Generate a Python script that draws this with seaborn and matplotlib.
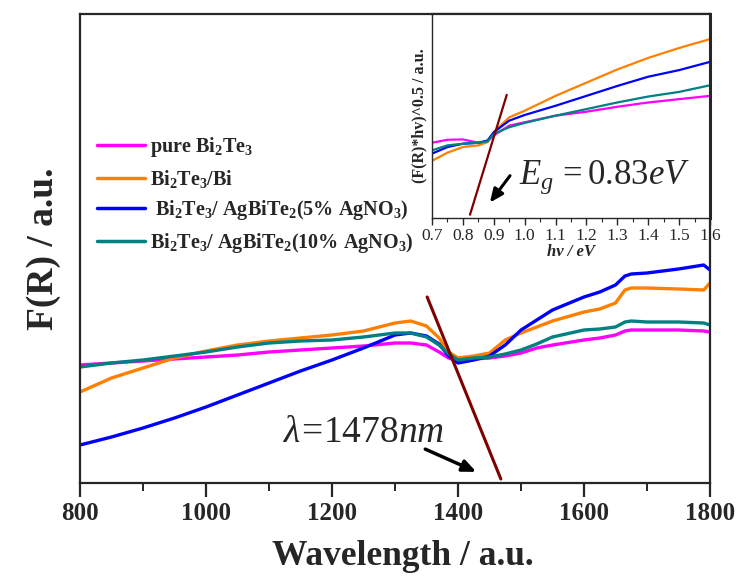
import numpy as np
import pandas as pd
import matplotlib
matplotlib.use("Agg")
import matplotlib.pyplot as plt
import seaborn as sns
from matplotlib.ticker import MultipleLocator

# ---------------- main spectra ----------------
wavelength = [800, 850, 900, 950, 1000, 1050, 1100, 1150, 1200, 1250, 1300, 1325,
              1350, 1370, 1385, 1400, 1425, 1450, 1475, 1500, 1525, 1550, 1600,
              1625, 1650, 1665, 1675, 1700, 1750, 1790, 1800]
pure_bi2te3 = [1.35, 1.37, 1.39, 1.41, 1.43, 1.45, 1.48, 1.50, 1.52, 1.54, 1.57, 1.57,
               1.55, 1.48, 1.42, 1.39, 1.41, 1.42, 1.44, 1.47, 1.52, 1.55, 1.60,
               1.62, 1.65, 1.69, 1.70, 1.70, 1.70, 1.69, 1.68]
bi2te3_bi = [1.08, 1.22, 1.32, 1.42, 1.49, 1.55, 1.59, 1.62, 1.65, 1.69, 1.77, 1.79,
             1.74, 1.62, 1.48, 1.42, 1.44, 1.47, 1.60, 1.67, 1.73, 1.79, 1.88,
             1.91, 1.97, 2.10, 2.12, 2.12, 2.11, 2.10, 2.17]
ag_5 = [0.55, 0.63, 0.72, 0.82, 0.93, 1.05, 1.17, 1.29, 1.40, 1.52, 1.65, 1.67,
        1.64, 1.56, 1.44, 1.37, 1.40, 1.44, 1.55, 1.70, 1.80, 1.90, 2.03,
        2.08, 2.15, 2.24, 2.26, 2.27, 2.31, 2.35, 2.30]
ag_10 = [1.33, 1.37, 1.40, 1.44, 1.48, 1.53, 1.57, 1.59, 1.60, 1.63, 1.67, 1.67,
         1.63, 1.55, 1.46, 1.40, 1.42, 1.43, 1.46, 1.50, 1.56, 1.63, 1.70,
         1.71, 1.73, 1.78, 1.79, 1.78, 1.78, 1.77, 1.75]

labels = [
    r"pure Bi$_\mathbf{2}$Te$_\mathbf{3}$",
    r"Bi$_\mathbf{2}$Te$_\mathbf{3}$/Bi",
    r" Bi$_\mathbf{2}$Te$_\mathbf{3}$/ AgBiTe$_\mathbf{2}$(5% AgNO$_\mathbf{3}$)",
    r"Bi$_\mathbf{2}$Te$_\mathbf{3}$/ AgBiTe$_\mathbf{2}$(10% AgNO$_\mathbf{3}$)",
]
colors = ["#ff00ff", "#ff8000", "#0000ff", "#008080"]

# ---------------- inset (Tauc) ----------------
hv = [0.70, 0.75, 0.80, 0.85, 0.88, 0.90, 0.95, 1.00, 1.10, 1.20, 1.30, 1.40, 1.50, 1.60]
tauc_pure = [2.68, 2.77, 2.78, 2.68, 2.72, 2.90, 3.20, 3.30, 3.50, 3.62, 3.77, 3.90, 4.00, 4.10]
tauc_bi = [2.13, 2.38, 2.55, 2.60, 2.70, 3.00, 3.45, 3.65, 4.10, 4.50, 4.90, 5.25, 5.55, 5.82]
tauc_ag5 = [2.35, 2.55, 2.65, 2.68, 2.75, 3.00, 3.35, 3.52, 3.80, 4.10, 4.40, 4.68, 4.88, 5.13]
tauc_ag10 = [2.45, 2.60, 2.65, 2.68, 2.72, 2.95, 3.15, 3.28, 3.50, 3.70, 3.90, 4.08, 4.22, 4.42]

# tangent lines / annotations
main_tangent_x = [1351, 1468]
main_tangent_y = [2.03, 0.21]
inset_tangent_x = [0.823, 0.942]
inset_tangent_y = [0.50, 4.13]

# ---------------- style ----------------
sns.set_style("ticks")
plt.rcParams.update({
    "font.family": ["Liberation Serif", "DejaVu Serif"],
    "mathtext.fontset": "custom",
    "mathtext.rm": "Liberation Serif",
    "mathtext.it": "Liberation Serif:italic",
    "mathtext.bf": "Liberation Serif:bold",
    "axes.linewidth": 1.6,
})

fig = plt.figure(figsize=(7.37, 5.78), dpi=100)
ax = fig.add_axes([80 / 737, 1 - 483 / 578, 630 / 737, 469 / 578])

df = pd.DataFrame({
    "Wavelength": wavelength * 4,
    "F": pure_bi2te3 + bi2te3_bi + ag_5 + ag_10,
    "Sample": np.repeat(labels, len(wavelength)),
})
sns.lineplot(data=df, x="Wavelength", y="F", hue="Sample", hue_order=labels,
             palette=dict(zip(labels, colors)), lw=2.4, ax=ax, errorbar=None)

ax.plot(main_tangent_x, main_tangent_y, color="#7f0000", lw=2.2)
ax.annotate("", xy=(1433, 0.27), xytext=(1344, 0.52),
            arrowprops=dict(arrowstyle="-|>,head_length=0.8,head_width=0.35",
                            color="black", lw=2.5))
ax.text(1250, 0.67, r"$\lambda\!=\!1478nm$", fontsize=27, ha="center", va="center")

ax.set_xlim(800, 1800)
ax.set_ylim(0.17, 4.86)
ax.xaxis.set_major_locator(MultipleLocator(200))
ax.xaxis.set_minor_locator(MultipleLocator(100))
ax.set_yticks([])
ax.tick_params(axis="x", which="major", direction="out", length=10, width=1.6,
               labelsize=18, pad=4)
ax.tick_params(axis="x", which="minor", direction="out", length=5.5, width=1.4)
for lab in ax.get_xticklabels():
    lab.set_fontweight("bold")
ax.set_xlabel("Wavelength / a.u.", fontsize=25.5, fontweight="bold")
ax.set_ylabel("F(R) / a.u.", fontsize=27, fontweight="bold")
ax.xaxis.set_label_coords(0.512, -0.122)
ax.yaxis.set_label_coords(-0.03, 0.5)

handles, labs = ax.get_legend_handles_labels()
leg = ax.legend(handles, labs, loc="center left",
                bbox_to_anchor=(97 / 737, 1 - 195 / 578), bbox_transform=fig.transFigure,
                frameon=False, handlelength=2.4, handletextpad=0.25,
                labelspacing=0.42, borderpad=0, borderaxespad=0,
                prop={"weight": "bold", "size": 14.5})
for line in leg.get_lines():
    line.set_linewidth(2.5)

# ---------------- inset ----------------
ins = fig.add_axes([432 / 737, 1 - 218 / 578, 278 / 737, 204 / 578])
ins.set_facecolor("white")
di = pd.DataFrame({
    "hv": hv * 4,
    "T": tauc_pure + tauc_bi + tauc_ag5 + tauc_ag10,
    "Sample": np.repeat(labels, len(hv)),
})
sns.lineplot(data=di, x="hv", y="T", hue="Sample", hue_order=labels,
             palette=dict(zip(labels, colors)), lw=1.6, ax=ins, errorbar=None,
             legend=False)
ins.plot(inset_tangent_x, inset_tangent_y, color="#7f0000", lw=1.6)
ins.annotate("", xy=(0.882, 0.80), xytext=(0.958, 1.75),
             arrowprops=dict(arrowstyle="-|>,head_length=0.8,head_width=0.35",
                             color="black", lw=2.2))
ins.text(1.26, 1.62, r"$E_g\,=0.83eV$", fontsize=25, ha="center", va="center")
ins.set_xlim(0.7, 1.6)
ins.set_ylim(0.40, 6.58)
ins.xaxis.set_minor_locator(MultipleLocator(0.05))
ins.set_xticks(np.round(np.arange(0.7, 1.61, 0.1), 1))
ins.set_xticklabels([f"{v:.1f}" for v in np.arange(0.7, 1.61, 0.1)])
ins.set_yticks([])
ins.tick_params(axis="x", which="major", direction="out", length=5, width=1.0,
                labelsize=12.5, pad=2)
ins.tick_params(axis="x", which="minor", direction="out", length=3, width=0.8)
for s in ["left", "bottom"]:
    ins.spines[s].set_linewidth(1.0)
ins.spines["top"].set_linewidth(1.6)
ins.spines["right"].set_linewidth(2.2)
ins.set_xlabel(r"hv / eV", fontsize=12, fontweight="bold", fontstyle="italic", labelpad=0)
ins.set_ylabel("(F(R)*hv)^0.5 / a.u.", fontsize=11.5, fontweight="bold", labelpad=3)

fig.savefig("out.png", dpi=100)
